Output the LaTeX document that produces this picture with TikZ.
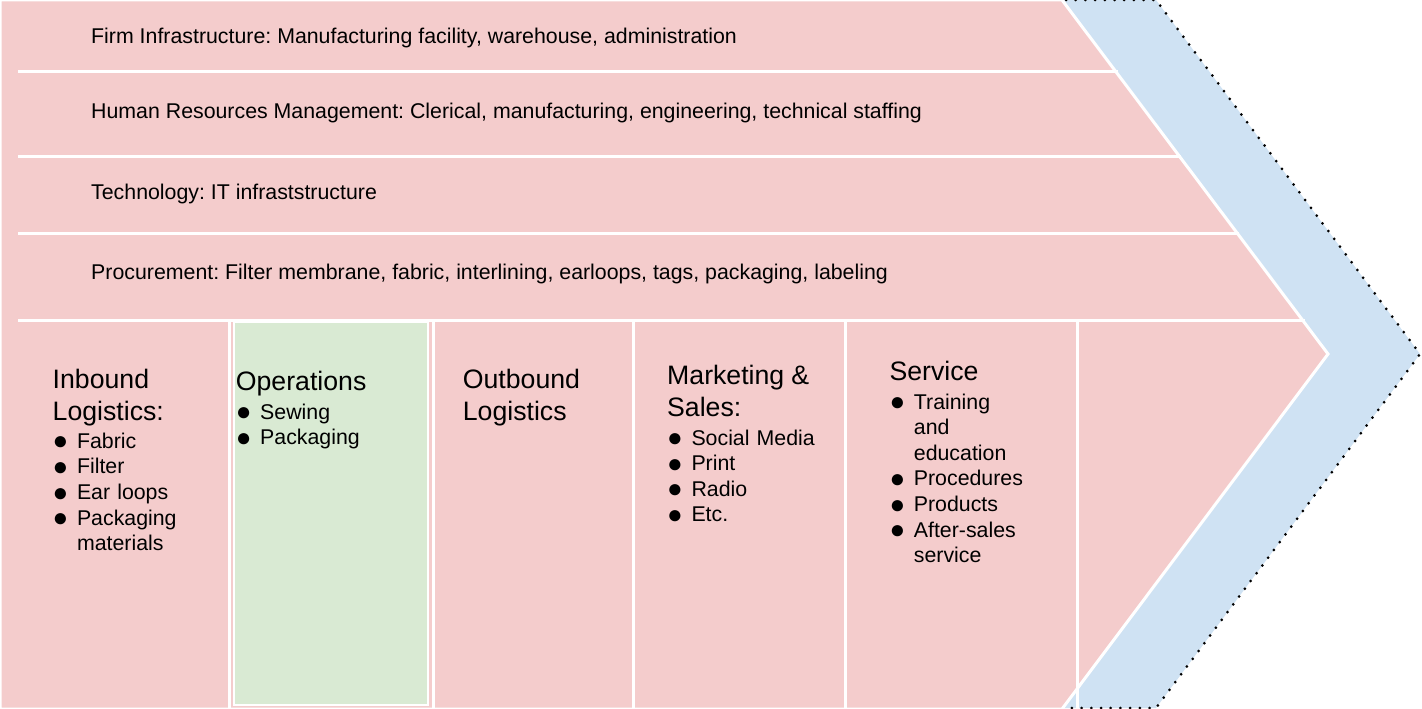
\documentclass[tikz,border=0pt]{standalone}
\usepackage{fontspec}
\setmainfont{Liberation Sans}
\frenchspacing
\definecolor{rowpink}{HTML}{F4CCCC}
\definecolor{marginblue}{HTML}{CFE2F3}
\definecolor{opsgreen}{HTML}{D9EAD3}
\newcommand\itemsize{\fontsize{21.33}{25.6}\selectfont}
\newcommand\headsize{\fontsize{26.67}{32}\selectfont}
\newcommand\dotmark{\raisebox{-1.6pt}{\fontsize{26}{26}\selectfont●}}
\newcommand\bitem[1]{\par\hangindent=24.3pt\hangafter=1\noindent\makebox[24.3pt][l]{\dotmark}#1\par}
\newcommand\headgap{\par\vspace{2.7pt}}

\begin{document}
\begin{tikzpicture}
      [
        x = 1pt, y = -1pt,
        sep/.style = {draw=white, line width=3pt},
        rowtext/.style = {anchor=base west, inner sep=0pt, font=\itemsize},
        activity/.style = {anchor=base west, inner sep=0pt, text width=220pt, font=\itemsize},
      ]

      \useasboundingbox (0,0) rectangle (1422,709);

      \fill[marginblue] (1062,0) -- (1156,0) -- (1420,354) -- (1156,708) -- (1062,708) -- (1328,354) -- cycle;
      \draw[line width=3pt, line cap=round, dash pattern=on 0pt off 9.7pt]
        (1066,0) -- (1156,0) -- (1420,354) -- (1156,708) -- (1066,708);

      \draw[sep, fill=rowpink] (0,0) -- (1062,0) -- (1328,354) -- (1062,709) -- (0,709) -- cycle;

      \foreach \y in {71.5,156,233.5,320.5}
        \draw[sep] (18,\y) -- ({1064+0.7514*\y},\y);

      \foreach \x in {229,433,633,845,1077}
        \draw[sep] (\x,320.5) -- (\x,709);

      \draw[sep, line width=2pt, fill=opsgreen] (234,322) rectangle (428,704.5);

      \node[rowtext] (firm) at (91,43.7) {Firm Infrastructure: Manufacturing facility, warehouse, administration};
      \node[rowtext] (hrm) at (91,118.2) {Human Resources Management: Clerical, manufacturing, engineering, technical staffing};
      \node[rowtext] (tech) at (91,199.8) {Technology: IT infraststructure};
      \node[rowtext] (procure) at (91,279.7) {Procurement: Filter membrane, fabric, interlining, earloops, tags, packaging, labeling};

      \node[activity] (inbound) at (52.5,388) {
          {\headsize Inbound\newline Logistics:\headgap}
          \bitem{Fabric}
          \bitem{Filter}
          \bitem{Ear loops}
          \bitem{Packaging\newline materials}
        };
      \node[activity] (ops) at (235.7,390.7) {
          {\headsize Operations\headgap}
          \bitem{Sewing}
          \bitem{Packaging}
        };
      \node[activity] (outbound) at (462.7,388) {
          {\headsize Outbound\newline Logistics\par}
        };
      \node[activity] (marketing) at (667,384.8) {
          {\headsize Marketing \&\newline Sales:\headgap}
          \bitem{Social Media}
          \bitem{Print}
          \bitem{Radio}
          \bitem{Etc.}
        };
      \node[activity] (service) at (889.4,380.7) {
          {\headsize Service\headgap}
          \bitem{Training\newline and\newline education}
          \bitem{Procedures}
          \bitem{Products}
          \bitem{After-sales\newline service}
        };

    \end{tikzpicture}
\end{document}
